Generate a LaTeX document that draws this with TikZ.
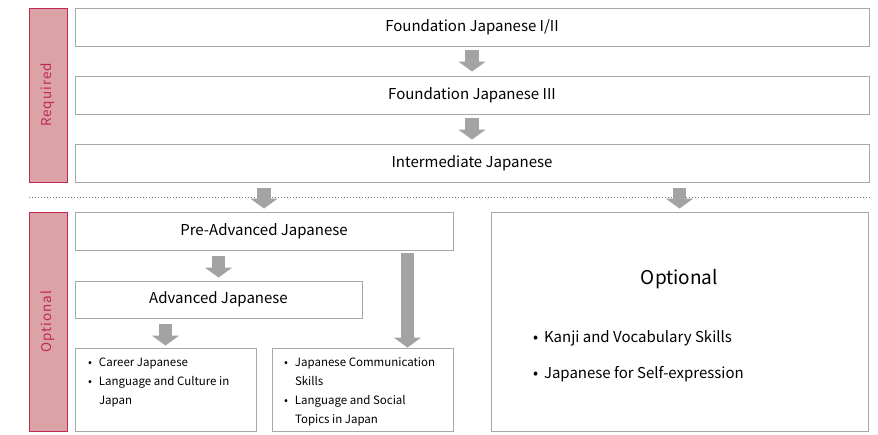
\documentclass[tikz,border=0pt]{standalone}
\usepackage{fontspec}
\setmainfont{Noto Sans CJK JP}
\usetikzlibrary{arrows.meta,calc}

\definecolor{barpink}{HTML}{DBA3A6}
\definecolor{barred}{HTML}{C0285A}
\definecolor{boxgray}{HTML}{A8A8A8}
\definecolor{arrowgray}{HTML}{A3A3A3}
\definecolor{linegray}{HTML}{808080}

\tikzset{
  course/.style={draw=boxgray, line width=0.9pt, fill=white, inner sep=0pt,
    minimum height=38pt, font=\fontsize{15}{18}\selectfont},
  listbox/.style={draw=boxgray, line width=0.9pt, fill=white, inner sep=0pt},
  sidebar/.style={draw=barred, fill=barpink, line width=0.9pt, inner sep=0pt,
    rotate=90, minimum height=38pt, text=barred,
    font=\fontsize{13.5}{15}\selectfont\addfontfeatures{LetterSpace=7}},
  flow/.style={arrowgray, line width=13.5pt, -{Triangle[width=27pt,length=10pt]}},
}
\newcommand{\itm}[1]{\par\hangindent=11pt\hangafter=1\noindent\makebox[11pt][l]{\textbullet}#1}

\begin{document}
\begin{tikzpicture}[x=1pt, y=-1pt]
            \useasboundingbox (0,0) rectangle (878,434);

            % required part
            \node[sidebar, minimum width=174pt] (req) at (48,95) {Required};
            \node[course, minimum width=794pt] (fj1) at (472,27) {Foundation Japanese I/II};
            \node[course, minimum width=794pt] (fj3) at (472,95) {Foundation Japanese III};
            \node[course, minimum width=794pt] (inter) at (472,163) {Intermediate Japanese};

            \draw[linegray, line width=1pt, dash pattern=on 1pt off 2pt] (29,197) -- (870,197);

            % optional part
            \node[sidebar, minimum width=219pt] (opt) at (48,321.5) {Optional};
            \node[course, minimum width=378pt] (preadv) at (264,231) {Pre-Advanced Japanese};
            \node[course, minimum width=287pt, minimum height=37pt] (adv) at (218.5,299.5) {Advanced Japanese};
            \node[listbox] (career) at (165.5,389.5) {\parbox[c][83pt][t]{181pt}{%
                \fontsize{11.5}{18.8}\selectfont\leftskip=13pt\vspace*{10pt}%
                \itm{Career Japanese}\itm{Language and Culture in\\Japan}}};
            \node[listbox] (comm) at (362.5,389.5) {\parbox[c][83pt][t]{181pt}{%
                \fontsize{11.5}{18.8}\selectfont\leftskip=12pt\vspace*{10pt}%
                \itm{Japanese Communication\\Skills}\itm{Language and Social\\Topics in Japan}}};
            \node[listbox] (extra) at (679.5,321.5) {\parbox[c][219pt][t]{377pt}{%
                \vspace*{57pt}{\centering\fontsize{19}{22}\selectfont Optional\par}%
                \vspace{22pt}\fontsize{15}{36}\selectfont\leftskip=42pt
                \itm{Kanji and Vocabulary Skills}\itm{Japanese for Self-expression}}};
            \coordinate (drop) at ($(comm.north east)+(-46,0)$);

            % arrows
            \draw[flow, shorten <=4pt, shorten >=4pt] (fj1) -- (fj3);
            \draw[flow, shorten <=4pt, shorten >=4pt] (fj3) -- (inter);
            \draw[flow, shorten <=6pt, shorten >=3pt] (inter.south -| preadv.north) -- (preadv.north);
            \draw[flow, shorten <=6pt, shorten >=3pt] (inter.south -| extra.north) -- (extra.north);
            \draw[flow, shorten <=6pt, shorten >=3pt] (preadv.south -| adv.north) -- (adv.north);
            \draw[flow, shorten <=6pt, shorten >=2pt] (adv.south -| career.north) -- (career.north);
            \draw[flow, shorten <=3pt] (preadv.south -| drop) -- (drop);
\end{tikzpicture}
\end{document}
